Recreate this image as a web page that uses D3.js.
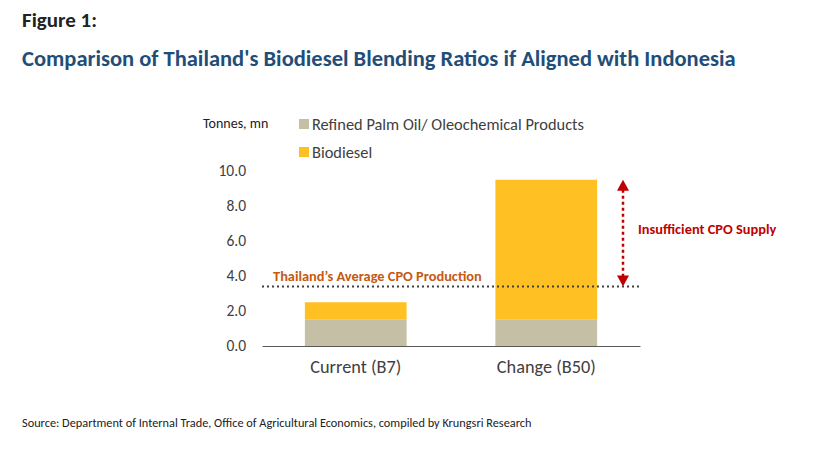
<!DOCTYPE html>
<html>
<head>
<meta charset="utf-8">
<script src="https://cdn.jsdelivr.net/npm/d3@7"></script>
<style>
  body { margin: 0; background: #fff; }
  svg { font-family: Carlito, Lato, "Open Sans", sans-serif; }
</style>
</head>
<body>
<svg id="chart" width="840" height="458"></svg>
<script>
// chart values
const categories = ['Current (B7)', 'Change (B50)'];
const seriesKeys = ['refined', 'biodiesel'];
const seriesLabels = ['Refined Palm Oil/ Oleochemical Products', 'Biodiesel'];
const refinedValues = [1.5, 1.5];
const biodieselValues = [1.0, 8.0];
const yTicks = [0, 2, 4, 6, 8, 10];
const avgProduction = 3.4;

const colors = ['#c5bfa5', '#ffc024'];
const FONT = 'Carlito, Lato, "Open Sans", sans-serif';

const svg = d3.select('#chart');

const data = categories.map((c, i) => ({
  cat: c, refined: refinedValues[i], biodiesel: biodieselValues[i],
}));

const xScale = d3.scaleBand().domain(categories).range([262, 640])
                 .paddingInner(0.466).paddingOuter(0.225);
const yScale = d3.scaleLinear().domain([0, 10]).range([346, 171]);

// titles
svg.append('text').attr('x', 22).attr('y', 27)
   .attr('font-size', 21).attr('font-weight', 700).attr('fill', '#222')
   .text('Figure 1:');
svg.append('text').attr('x', 22).attr('y', 66)
   .attr('font-size', 22.5).attr('font-weight', 700).attr('fill', '#1f4e79')
   .text('Comparison of Thailand\'s Biodiesel Blending Ratios if Aligned with Indonesia');

// stacked bars
const layers = d3.stack().keys(seriesKeys)(data);
svg.append('g').selectAll('g')
   .data(layers)
   .enter().append('g')
   .attr('fill', (d, i) => colors[i])
   .selectAll('rect')
   .data((d) => d)
   .enter().append('rect')
   .attr('x', (d) => xScale(d.data.cat))
   .attr('width', xScale.bandwidth())
   .attr('y', (d) => yScale(d[1]))
   .attr('height', (d) => yScale(d[0]) - yScale(d[1]));

// y axis labels
const yAxis = d3.axisLeft(yScale).tickValues(yTicks)
                .tickFormat(d3.format('.1f')).tickSize(0).tickPadding(16);
const yg = svg.append('g').attr('transform', 'translate(262,0)').call(yAxis);
yg.select('.domain').remove();
yg.selectAll('text').attr('font-size', 15.5).attr('fill', '#404040')
  .attr('font-family', FONT);

// x axis
const xAxis = d3.axisBottom(xScale).tickSize(0).tickPadding(14);
const xg = svg.append('g').attr('transform', 'translate(0,346)').call(xAxis);
xg.select('.domain').attr('stroke', '#595959').attr('stroke-width', 1.2);
xg.selectAll('text').attr('font-size', 18.3).attr('fill', '#404040')
  .attr('font-family', FONT);

// average production line
svg.append('line')
   .attr('x1', 262).attr('x2', 640)
   .attr('y1', yScale(avgProduction)).attr('y2', yScale(avgProduction))
   .attr('stroke', '#404040').attr('stroke-width', 2.2)
   .attr('stroke-dasharray', '2,3');
svg.append('text').attr('x', 273).attr('y', yScale(avgProduction) - 6)
   .attr('font-size', 14.4).attr('font-weight', 700).attr('fill', '#c55a11')
   .text('Thailand\u2019s Average CPO Production');

// gap arrow
const arrowX = 623;
const topY = yScale(refinedValues[1] + biodieselValues[1]);
const botY = yScale(avgProduction);
svg.append('line')
   .attr('x1', arrowX).attr('x2', arrowX)
   .attr('y1', topY + 10).attr('y2', botY - 10)
   .attr('stroke', '#c00000').attr('stroke-width', 2.5)
   .attr('stroke-dasharray', '3,3');
svg.append('path')
   .attr('d', `M${arrowX},${topY} L${arrowX - 6},${topY + 11} L${arrowX + 6},${topY + 11}Z`)
   .attr('fill', '#c00000');
svg.append('path')
   .attr('d', `M${arrowX},${botY} L${arrowX - 6},${botY - 11} L${arrowX + 6},${botY - 11}Z`)
   .attr('fill', '#c00000');
svg.append('text').attr('x', 638).attr('y', 234)
   .attr('font-size', 14.4).attr('font-weight', 700).attr('fill', '#c00000')
   .text('Insufficient CPO Supply');

// unit label
svg.append('text').attr('x', 203).attr('y', 128)
   .attr('font-size', 14).attr('fill', '#222').text('Tonnes, mn');

// legend
const legend = svg.append('g').selectAll('g')
   .data(seriesLabels)
   .enter().append('g')
   .attr('transform', (d, i) => `translate(299,${119 + i * 28})`);
legend.append('rect').attr('width', 10).attr('height', 10)
      .attr('fill', (d, i) => colors[i]);
legend.append('text').attr('x', 13).attr('y', 5).attr('dy', '0.35em')
      .attr('font-size', 16.4).attr('fill', '#404040').text((d) => d);

// source
svg.append('text').attr('x', 22).attr('y', 427)
   .attr('font-size', 12.3).attr('fill', '#222')
   .text('Source: Department of Internal Trade, Office of Agricultural Economics, compiled by Krungsri Research');
</script>
</body>
</html>
